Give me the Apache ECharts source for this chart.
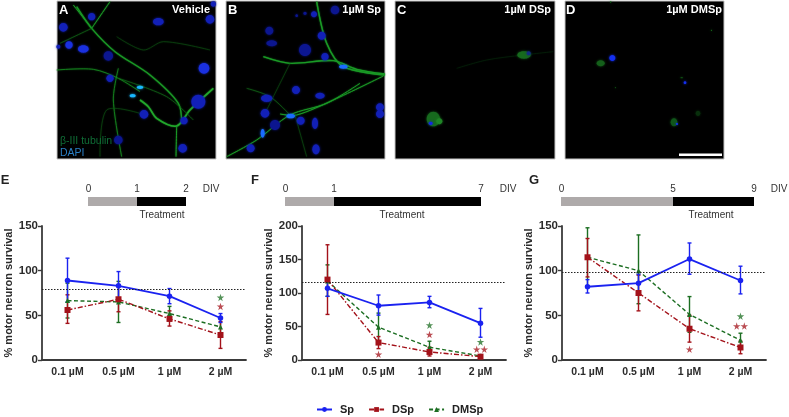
<!DOCTYPE html>
<html><head><meta charset="utf-8">
<style>html,body{margin:0;padding:0;background:#fff}#c{width:789px;height:417px}</style>
<script src="https://cdn.jsdelivr.net/npm/echarts@6/dist/echarts.min.js"></script>
</head><body><div id="c"></div>
<script>
const categories = ['0.1 µM','0.5 µM','1 µM','2 µM'];
const seriesNames = ['Sp','DSp','DMSp'];
const colors = {Sp:'#1a22f0',DSp:'#a3121a',DMSp:'#1c6e22'};

// Panel E
const eSp=[89,83,71.5,47], eSpLow=[65,67,63,42], eSpHigh=[114,99,80,52];
const eDSp=[56,68,46,28], eDSpLow=[41,54,38,13], eDSpHigh=[73,82,55,43];
const eDMSp=[66.5,65,52,37], eDMSpLow=[47,42,44,27], eDMSpHigh=[86,88,60,47];
const eRef=79, eMax=150, eStep=50;
// Panel F
const fSp=[107,81,86,55], fSpLow=[95,67,78,34], fSpHigh=[119,97,95,77];
const fDSp=[120,26,12,5], fDSpLow=[68,17,6,3], fDSpHigh=[172,35,19,7];
const fDMSp=[118,49,19,6], fDMSpLow=[95,28,10,4], fDMSpHigh=[142,70,28,8];
const fRef=116, fMax=200, fStep=50;
// Panel G
const gSp=[82,86,113,89], gSpLow=[75,76,96,74], gSpHigh=[90,96,131,105];
const gDSp=[115,75,35,14], gDSpLow=[93,55,20,7], gDSpHigh=[136,95,50,21];
const gDMSp=[115,100,51,22], gDMSpLow=[82,63,31,14], gDMSpHigh=[148,140,71,30];
const gRef=98, gMax=150, gStep=50;
// Significance stars: [category index, height, horizontal slot]
const eStarsDSp=[[3,60,0]], eStarsDMSp=[[3,70,0]];
const fStarsDSp=[[1,8.5,0],[2,38,0],[3,16,-1],[3,16,1]], fStarsDMSp=[[2,52,0],[3,27,0]];
const gStarsDSp=[[2,12,0],[3,38,-1],[3,38,1]], gStarsDMSp=[[3,49,0]];

const FONT='"Liberation Sans",Arial,sans-serif';
const STAR='path://M50,0 L61,35 L98,35 L68,57 L79,91 L50,70 L21,91 L32,57 L2,35 L39,35 Z';
const lineDash={Sp:'solid',DSp:[5,2,1.5,2],DMSp:[4,2.5]};
const symbols={Sp:'circle',DSp:'rect',DMSp:'triangle'};
const symbolSizes={Sp:5.5,DSp:6,DMSp:5};

const panels=[
 {left:42,vals:{Sp:eSp,DSp:eDSp,DMSp:eDMSp},lows:{Sp:eSpLow,DSp:eDSpLow,DMSp:eDMSpLow},highs:{Sp:eSpHigh,DSp:eDSpHigh,DMSp:eDMSpHigh},ref:eRef,max:eMax,step:eStep,stars:{DSp:eStarsDSp,DMSp:eStarsDMSp}},
 {left:302,vals:{Sp:fSp,DSp:fDSp,DMSp:fDMSp},lows:{Sp:fSpLow,DSp:fDSpLow,DMSp:fDMSpLow},highs:{Sp:fSpHigh,DSp:fDSpHigh,DMSp:fDMSpHigh},ref:fRef,max:fMax,step:fStep,stars:{DSp:fStarsDSp,DMSp:fStarsDMSp}},
 {left:562,vals:{Sp:gSp,DSp:gDSp,DMSp:gDMSp},lows:{Sp:gSpLow,DSp:gDSpLow,DMSp:gDMSpLow},highs:{Sp:gSpHigh,DSp:gDSpHigh,DMSp:gDMSpHigh},ref:gRef,max:gMax,step:gStep,stars:{DSp:gStarsDSp,DMSp:gStarsDMSp}}
];

const grids=[],xAxes=[],yAxes=[],series=[];
panels.forEach((p,k)=>{
 grids.push({left:p.left,width:204,top:226,height:134});
 xAxes.push({type:'category',gridIndex:k,data:categories,
  axisLine:{lineStyle:{color:'#3a3a3a',width:1.8}},
  axisTick:{alignWithLabel:true,length:4,lineStyle:{color:'#3a3a3a',width:1.4}},
  axisLabel:{color:'#2b2b2b',fontFamily:FONT,fontWeight:'bold',fontSize:10.5,margin:7,interval:0}});
 yAxes.push({type:'value',gridIndex:k,min:0,max:p.max,interval:p.step,
  name:'% motor neuron survival',nameLocation:'middle',nameGap:28,
  nameTextStyle:{color:'#2b2b2b',fontFamily:FONT,fontWeight:'bold',fontSize:11},
  splitLine:{show:false},
  axisLine:{show:true,lineStyle:{color:'#3a3a3a',width:1.8}},
  axisTick:{show:true,length:4,lineStyle:{color:'#3a3a3a',width:1.4}},
  axisLabel:{color:'#2b2b2b',fontFamily:FONT,fontWeight:'bold',fontSize:11.5,margin:4}});
 ['DMSp','DSp','Sp'].forEach(n=>{
  const c=colors[n];
  series.push({name:n+' error',type:'custom',xAxisIndex:k,yAxisIndex:k,silent:true,z:3,
   encode:{x:0,y:[1,2]},
   data:p.lows[n].map((l,i)=>[i,l,p.highs[n][i]]),
   renderItem:(params,api)=>{
    const a=api.coord([api.value(0),api.value(1)]),b=api.coord([api.value(0),api.value(2)]);
    const st={stroke:c,lineWidth:1.4,fill:null};
    return {type:'group',children:[
     {type:'line',shape:{x1:a[0],y1:a[1],x2:b[0],y2:b[1]},style:st},
     {type:'line',shape:{x1:a[0]-2,y1:a[1],x2:a[0]+2,y2:a[1]},style:st},
     {type:'line',shape:{x1:b[0]-2,y1:b[1],x2:b[0]+2,y2:b[1]},style:st}]};
   }});
  const s={name:n,type:'line',xAxisIndex:k,yAxisIndex:k,data:p.vals[n],z:4,
   symbol:symbols[n],symbolSize:symbolSizes[n],showAllSymbol:true,animation:false,
   itemStyle:{color:c},lineStyle:{color:c,width:n==='Sp'?1.8:1.4,type:lineDash[n]}};
  if(n==='Sp') s.markLine={silent:true,symbol:'none',label:{show:false},animation:false,
    lineStyle:{color:'#222',type:[1.5,1.5],width:1},data:[{yAxis:p.ref}]};
  series.push(s);
  if(p.stars[n]) series.push({name:n+' stars',type:'scatter',xAxisIndex:k,yAxisIndex:k,silent:true,z:5,
    symbol:STAR,symbolSize:7.5,itemStyle:{color:c,opacity:.75},
    data:p.stars[n].map(d=>({value:[d[0],d[1]],symbolOffset:[d[2]*3.8,0]}))});
 });
});

// Page decoration: lettering, treatment timelines and the micrograph panels
const g=[];
function txt(x,y,s,o={}){g.push({type:'text',x,y,silent:true,z:20,style:Object.assign({text:s,fill:'#333',font:'10px '+FONT,textAlign:'center',textVerticalAlign:'middle'},o)});}
function bar(x0,x1,x2,l0,l1,l2,divX,treatX){
 g.push({type:'rect',shape:{x:x0,y:197,width:x1-x0,height:9},style:{fill:'#aeaaaa'},silent:true});
 g.push({type:'rect',shape:{x:x1,y:197,width:x2-x1,height:9},style:{fill:'#000'},silent:true});
 txt(x0+.5,189.5,l0);txt(x1,189.5,l1);txt(x2,189.5,l2);txt(divX,189.5,'DIV');txt(treatX,215,'Treatment');
}
bar(88,137,186,'0','1','2',211,162);
bar(285,334,481,'0','1','7',508,402);
bar(561,673,754,'0','5','9',779,711);
const big={font:'bold 13px '+FONT,fill:'#222'};
txt(5,180,'E',big);txt(255,180,'F',big);txt(534,180,'G',big);

function panel(ox,neur,nuc){ // coordinates in 3× crop space, offset ox
 const W=v=>ox+v/3,H=v=>v/3;
 neur.forEach(n=>{const col=n[2]||'#1a9a26';g.push({type:'polyline',silent:true,z:2,
   shape:{points:n[0].map(q=>[W(q[0]),H(q[1])]),smooth:.3},
   style:{stroke:col,lineWidth:n[1],fill:null,shadowBlur:1.5,shadowColor:col}});});
 nuc.forEach(c=>{const col=c[4]||'#1220b8';g.push({type:'ellipse',silent:true,z:3,
   shape:{cx:W(c[0]),cy:H(c[1]),rx:c[2]/3,ry:(c[3]||c[2])/3},
   style:{fill:col,shadowBlur:2.5,shadowColor:col}});});
}
function frame(x,w){g.push({type:'rect',silent:true,z:1,shape:{x,y:1,width:w,height:158},style:{fill:'#000',stroke:'#c4c4c4',lineWidth:1}});}
frame(57,159);frame(226,159);frame(395,160);frame(565,159);
const BR='#19b8ff';
panel(50,[
 [[[80,20],[125,85],[195,155],[300,225],[385,310],[395,370]],1.2],
 [[[270,300],[295,320],[320,355],[380,378],[420,330],[490,265]],1.6,'#22a82c'],
 [[[20,210],[130,208],[205,235],[270,275]],.8,'#158a20'],
 [[[205,205],[190,300],[215,470]],.8,'#158a20'],
 [[[380,378],[378,470]],1],
 [[[125,85],[180,5]],1],[[[125,85],[70,15]],1],[[[125,85],[30,130]],.6,'#12701a'],
 [[[205,235],[350,290],[430,360]],.6,'#12701a'],
 [[[200,110],[280,150],[340,125],[480,150]],.5,'#0e5a15'],
 [[[150,470],[170,330],[280,343]],.5,'#0e5a15']
],[[125,50,11],[40,82,13],[57,135,11,11,'#1a30e0'],[100,147,16,11,'#1a30e0'],[175,168,14,14,'#0c1690'],[325,65,16,11],[480,58,13],[490,12,8],[462,205,16,16,'#1a30e0'],[180,235,11],[270,262,10,5,BR],[248,287,9,5,BR],[282,343,13],[445,305,21,21],[402,362,11],[398,445,13],[205,420,13,13,'#0c1690'],[25,140,6]]);
panel(50,[
 [[[800,5],[830,130],[880,200],[1005,225]],1.4],
 [[[640,170],[720,190],[850,182],[920,208],[1005,222]],1.3],
 [[[530,470],[620,420],[720,345],[830,310],[930,250]],1],
 [[[690,342],[740,345],[850,300],[1000,228]],1],
 [[[590,265],[660,290],[720,345]],.6,'#12701a'],
 [[[720,190],[680,270],[640,350]],.5,'#0e5a15'],
 [[[735,345],[770,470]],.5,'#0e5a15']
],[[740,47,4,4,'#0c1690'],[765,40,5,5,'#0c1690'],[792,43,9],[855,30,13,13,'#0c1690'],[815,107,12],[658,92,12,12,'#0c1690'],[665,130,16,9,'#0c1690'],[765,150,18,18,'#0c1690'],[825,170,11],[880,200,13,6,'#1a6cff'],[738,270,12],[650,295,17,11],[810,287,14,9],[645,340,13],[722,348,13,7,'#1a6cff'],[752,362,12],[795,370,9,17],[675,375,15,15,'#0c1690'],[638,400,6,13,'#1a6cff'],[602,445,12],[798,448,11,15],[990,322,12],[990,342,12]]);
panel(390,[
 [[[200,205],[290,180],[400,165],[490,155]],.5,'#072b0c'],
],[[402,165,20,11,'#176a1e'],[416,160,6,6,'#122b80'],[130,357,20,22,'#176a1e'],[148,364,9,9,'#1f8526'],[122,370,6,5,'#1426e6']]);
panel(390,[],[[632,190,12,9,'#145f1a'],[667,174,9,9,'#1430f0'],[885,248,4,4,'#1430f0'],[875,233,4,2,'#0c4a12'],[852,367,10,12,'#10561a'],[861,372,3,3,'#1430f0'],[924,340,7,8,'#082f0c'],[964,91,1.5,1.5,'#28c030'],[676,263,1.5,1.5,'#1a8f22'],[662,6,2,2,'#146f1b']]);
g.push({type:'rect',silent:true,z:4,shape:{x:679,y:153.5,width:43,height:2.5},style:{fill:'#fff'}});
const wb={font:'bold 11px '+FONT,fill:'#fff',textAlign:'right'};
const wl={font:'bold 13px '+FONT,fill:'#fff',textAlign:'left'};
txt(59,10,'A',wl);txt(228,10,'B',wl);txt(397,10,'C',wl);txt(566,10,'D',wl);
txt(210,10,'Vehicle',wb);txt(381,10,'1µM Sp',wb);txt(551,10,'1µM DSp',wb);txt(722,10,'1µM DMSp',wb);
txt(60,141,'β-III tubulin',{font:'10.5px '+FONT,fill:'#0f6d36',textAlign:'left'});
txt(60,153,'DAPI',{font:'10.5px '+FONT,fill:'#2a7fc4',textAlign:'left'});

const chart=echarts.init(document.getElementById('c'),null,{renderer:'canvas'});
chart.setOption({animation:false,backgroundColor:'#fff',
 grid:grids,xAxis:xAxes,yAxis:yAxes,series,graphic:g,
 legend:{data:seriesNames,left:311,top:399,itemWidth:15,itemHeight:6,itemGap:14,
  textStyle:{color:'#222',fontFamily:FONT,fontWeight:'bold',fontSize:11,padding:[0,0,0,3]}}
});
</script></body></html>
